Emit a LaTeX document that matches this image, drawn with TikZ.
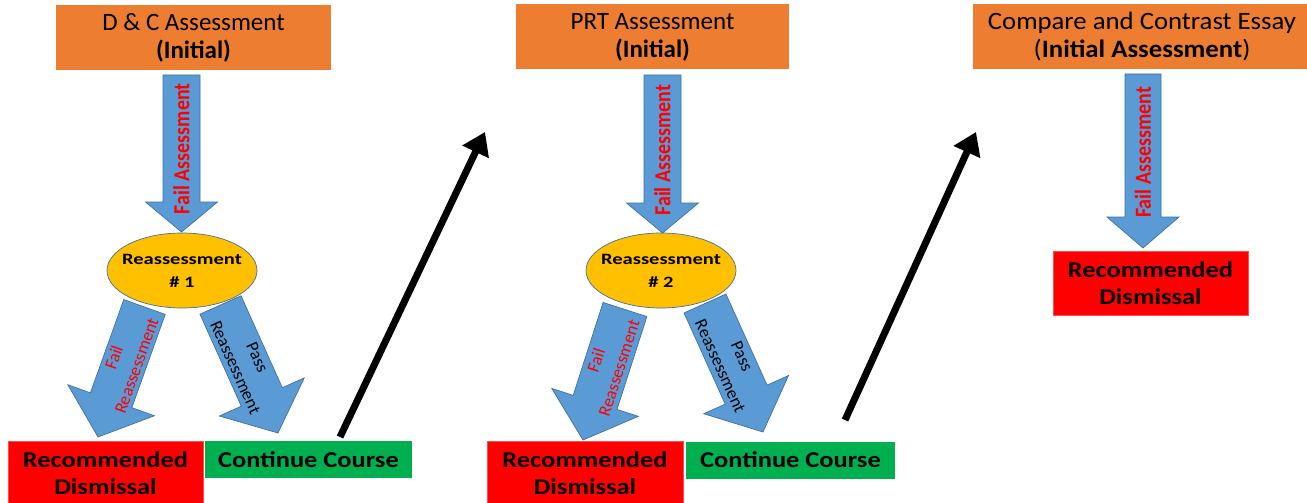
\documentclass[tikz,border=0pt]{standalone}
\usepackage{fontspec}
\setmainfont{Carlito}
\newfontfamily\wideA[FakeStretch=1.17]{Carlito}
\newfontfamily\wideB[FakeStretch=1.3]{Carlito}
\newfontfamily\wideC[FakeStretch=1.07]{Carlito}
\newfontfamily\condA[FakeStretch=0.87]{Carlito}
\usetikzlibrary{arrows.meta,calc,shapes.geometric}
\definecolor{orng}{HTML}{ED7D31}
\definecolor{bfill}{HTML}{5B9BD5}
\definecolor{bline}{HTML}{41719C}
\definecolor{gold}{HTML}{FFC000}
\definecolor{rd}{HTML}{FF0000}
\definecolor{grn}{HTML}{00B050}
\newdimen\badx \newdimen\bady
\newcommand\blockarrow[9]{%
  \pgfextractx{\badx}{\pgfpointdiff{\pgfpointanchor{#1}{center}}{\pgfpointanchor{#2}{center}}}%
  \pgfextracty{\bady}{\pgfpointdiff{\pgfpointanchor{#1}{center}}{\pgfpointanchor{#2}{center}}}%
  \pgfmathsetmacro\baang{atan2(\bady,\badx)}%
  \pgfmathsetmacro\balen{veclen(\badx,\bady)}%
  \begin{scope}[shift={(#1)},rotate=\baang]
    \draw[barrow] (0,-#3) -- (\balen-#5,-#3) -- (\balen-#5,-#4) -- (\balen,0)
      -- (\balen-#5,#4) -- (\balen-#5,#3) -- (0,#3) -- cycle;
  \end{scope}
  \node[#8,rotate={\baang+#7}] at ($(#1)!#6!(#2)$) {#9};
}
\tikzset{
  barrow/.style={draw=bline, line width=0.7pt, fill=bfill, line join=miter},
  obox/.style={fill=orng, minimum height=65pt, inner sep=0pt, align=center,
    font=\fontsize{25}{28}\selectfont},
  rbox/.style={fill=rd, draw=red!70!white, line width=0.5pt, inner sep=0pt, align=center,
    font=\wideA\fontsize{22.6}{27}\selectfont\bfseries},
  gbox/.style={fill=grn, inner sep=0pt, align=center, minimum height=37pt,
    font=\wideA\fontsize{22.6}{27}\selectfont\bfseries},
  ell/.style={ellipse, fill=gold, draw=bline, line width=0.7pt, minimum width=150pt,
    minimum height=75pt, inner sep=0pt},
  etext/.style={inner sep=0pt, align=center,
    font=\wideB\fontsize{15.8}{23}\selectfont\bfseries},
  vlbl/.style={text=rd, inner sep=0pt, font=\condA\fontsize{23}{26}\selectfont\bfseries},
  flbl/.style={text=rd, inner sep=0pt, align=center, font=\fontsize{17.5}{24}\selectfont},
  plbl/.style={text=black, inner sep=0pt, align=center, font=\fontsize{17.5}{24}\selectfont},
  blk/.style={line width=7pt, -{Triangle[length=22pt,width=28pt]}},
}
\begin{document}
\begin{tikzpicture}[x=1pt,y=-1pt]
\useasboundingbox (0,0) rectangle (1307,503);
\fill[white] (0,0) rectangle (1307,503);

% top boxes
\node[obox, minimum width=275pt] (b1) at (193.5,37.5) {D \& C Assessment\\\textbf{(Initial)}};
\node[obox, minimum width=273pt] (b2) at (652.5,37) {PRT Assessment\\\textbf{(Initial)}};
\node[obox, minimum width=338pt, font=\wideC\fontsize{25}{28}\selectfont] (b3) at (1142,37) {Compare and Contrast Essay\\(\textbf{Initial Assessment})};

% ellipses
\node[ell] (e1) at (182,270.5) {};
\node[etext] (e1t) at (e1.center) {Reassessment\\\# 1};
\node[ell] (e2) at (661,270.5) {};
\node[etext] (e2t) at (e2.center) {Reassessment\\\# 2};

% result boxes
\node[rbox, minimum width=195pt, minimum height=65pt] (r1) at (105.5,473.5) {Recommended\\Dismissal};
\node[gbox, minimum width=207pt] (g1) at (308.5,459.5) {Continue Course};
\node[rbox, minimum width=196pt, minimum height=65pt] (r2) at (585,473.5) {Recommended\\Dismissal};
\node[gbox, minimum width=209pt] (g2) at (790.5,460) {Continue Course};
\node[rbox, minimum width=195pt, minimum height=64pt] (r3) at (1150.5,283) {Recommended\\Dismissal};

% arrow end points
\coordinate (a1s) at (181.5,75);   \coordinate (a1e) at (181.5,232);
\coordinate (a2s) at (662.5,75);   \coordinate (a2e) at (662.5,233);
\coordinate (a3s) at (1143,74);    \coordinate (a3e) at (1143,248);
\coordinate (f1s) at (144.5,307);  \coordinate (f1e) at (98,437);
\coordinate (p1s) at (220.5,305);  \coordinate (p1e) at (278,433);
\coordinate (f2s) at (625,309.5);  \coordinate (f2e) at (583,440);
\coordinate (p2s) at (705,303.5);  \coordinate (p2e) at (763,432);
\coordinate (c1s) at (340,437);    \coordinate (c1e) at (485,132);
\coordinate (c2s) at (845,420);    \coordinate (c2e) at (976,132);

% block arrows
\blockarrow{a1s}{a1e}{18.5}{36}{30}{0.47}{180}{vlbl}{Fail Assessment}
\blockarrow{a2s}{a2e}{18.5}{36}{30}{0.475}{180}{vlbl}{Fail Assessment}
\blockarrow{a3s}{a3e}{18}{36}{31}{0.45}{180}{vlbl}{Fail Assessment}
\blockarrow{f1s}{f1e}{22}{46}{39}{0.42}{180}{flbl}{Fail\\Reassessment}
\blockarrow{p1s}{p1e}{22.5}{46.5}{39.5}{0.45}{0}{plbl}{Pass\\Reassessment}
\blockarrow{f2s}{f2e}{23}{45.5}{39.5}{0.42}{180}{flbl}{Fail\\Reassessment}
\blockarrow{p2s}{p2e}{23}{46.5}{41}{0.45}{0}{plbl}{Pass\\Reassessment}

% black arrows
\draw[blk] (c1s) -- (c1e);
\draw[blk] (c2s) -- (c2e);
\end{tikzpicture}
\end{document}
